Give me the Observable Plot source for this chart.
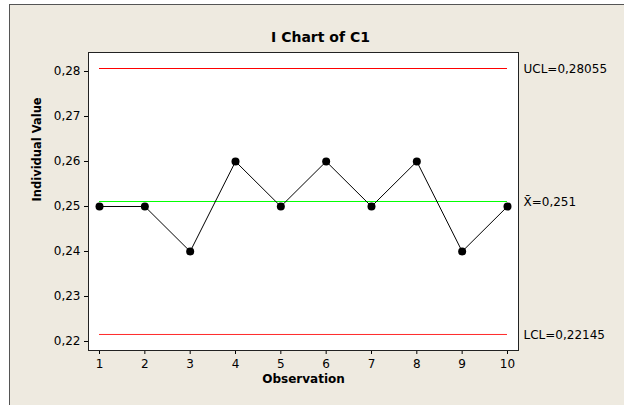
<!DOCTYPE html>
<html>
<head>
<meta charset="utf-8">
<script src="https://cdn.jsdelivr.net/npm/d3@7"></script>
<script src="https://cdn.jsdelivr.net/npm/@observablehq/plot@0.6"></script>
<style>
  html, body { margin: 0; padding: 0; background: #ffffff; }
  #panel { position: absolute; left: 9px; top: 4px; width: 615px; height: 401px; box-sizing: border-box;
           background: #eeeae0; border-left: 1px solid #555; border-top: 1px solid #555; }
  #chart { position: absolute; left: 0; top: 0; }
</style>
</head>
<body>
<div id="panel"></div>
<div id="chart"></div>
<script>
const title = "I Chart of C1";
const xLabel = "Observation";
const yLabel = "Individual Value";
const observations = [1, 2, 3, 4, 5, 6, 7, 8, 9, 10];
const values = [0.25, 0.25, 0.24, 0.26, 0.25, 0.26, 0.25, 0.26, 0.24, 0.25];
const limitNames = ["UCL", "Mean", "LCL"];
const limitValues = [0.28055, 0.251, 0.22145];
const limitLabels = ["UCL=0,28055", "X\u0304=0,251", "LCL=0,22145"];
const limitColors = ["#ff0000", "#00ff00", "#ff2a2a"];
const yTicks = [0.22, 0.23, 0.24, 0.25, 0.26, 0.27, 0.28];
const xTicks = observations;

const points = observations.map((o, i) => ({obs: o, value: values[i]}));
const limits = limitNames.map((n, i) => ({name: n, value: limitValues[i], label: limitLabels[i], color: limitColors[i]}));
const xFirst = observations[0], xLast = observations[observations.length - 1];
const comma = d => d.toFixed(2).replace(".", ",");

const chart = Plot.plot({
  width: 624,
  height: 405,
  marginLeft: 88,
  marginRight: 106,
  marginTop: 52,
  marginBottom: 55,
  style: {background: "transparent", fontFamily: "DejaVu Sans", fontSize: "12px", color: "#000"},
  x: {domain: [0.757, 10.243]},
  y: {domain: [0.218, 0.28422]},
  marks: [
    Plot.frame({fill: "white"}),
    Plot.axisX({ticks: xTicks, tickFormat: d => String(d), tickSize: 4, tickPadding: 5, label: null, fontSize: 12}),
    Plot.axisY({ticks: yTicks, tickFormat: comma, tickSize: 4, tickPadding: 4, label: null, fontSize: 12}),
    Plot.text([xLabel], {frameAnchor: "bottom", dy: 32, text: d => d, fontWeight: "bold", fontSize: 12, fill: "#000"}),
    Plot.text([yLabel], {frameAnchor: "left", dx: -51, rotate: -90, text: d => d, fontWeight: "bold", fontSize: 11.5, fill: "#000"}),
    ...limits.map(l => Plot.ruleY([l.value], {x1: xFirst, x2: xLast, stroke: l.color, strokeWidth: 1, dy: -0.5})),
    Plot.line(points, {x: "obs", y: "value", stroke: "#000", strokeWidth: 1}),
    Plot.dot(points, {x: "obs", y: "value", r: 4, fill: "#000", stroke: "none"}),
    Plot.frame({stroke: "#222", strokeWidth: 1}),
    Plot.text(limits, {y: "value", frameAnchor: "right", dx: 5, textAnchor: "start", text: "label", fontSize: 12, fill: "#000"}),
    Plot.text([title], {frameAnchor: "top", dy: -20, dx: 17, text: d => d, fontWeight: "bold", fontSize: 14, fill: "#000"})
  ]
});
document.getElementById("chart").appendChild(chart);
</script>
</body>
</html>
